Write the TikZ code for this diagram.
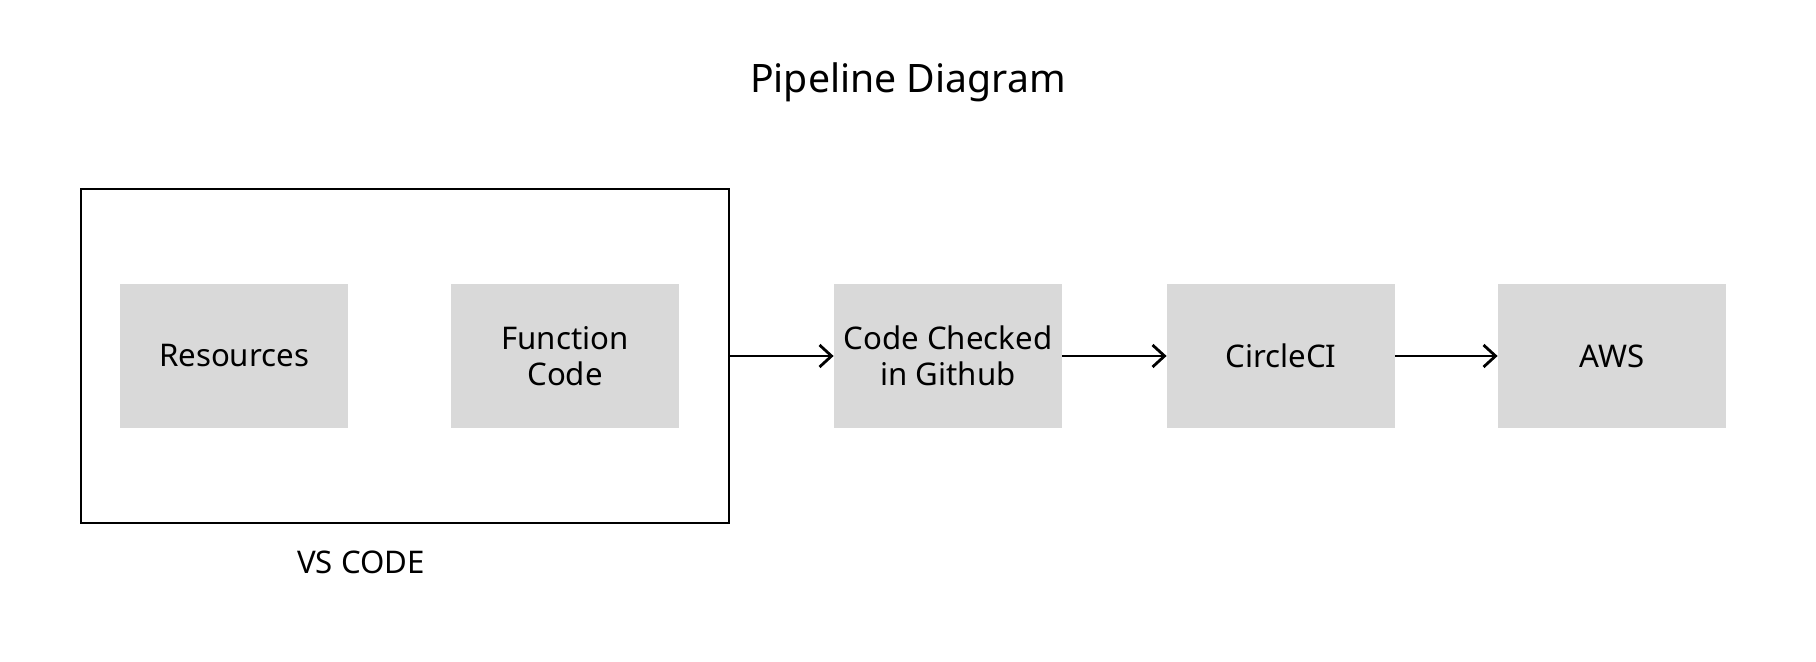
\documentclass[tikz,border=0pt]{standalone}
\usepackage{fontspec}
\setmainfont{Noto Sans}
\usetikzlibrary{arrows.meta}
\definecolor{boxgray}{HTML}{D9D9D9}
\tikzset{
  stepbox/.style={fill=boxgray, draw=none, minimum width=114pt, minimum height=72pt, inner sep=0pt, align=center, font=\fontsize{15.6}{17.8}\selectfont},
  flow/.style={line width=1.4pt, -{Straight Barb[length=6pt,width=11pt,line width=1.4pt]}},
}
\begin{document}
\begin{tikzpicture}[x=0.5pt,y=-0.5pt]
\useasboundingbox (0,0) rectangle (1816,662);
\node[font=\fontsize{19.6}{22}\selectfont, anchor=base] (title) at (908,92.7) {Pipeline Diagram};
\node[draw, line width=1.4pt, minimum width=324pt, minimum height=167pt, inner sep=0pt] (vs) at (405,356) {};
\node[font=\fontsize{15.6}{17.8}\selectfont, anchor=base] (vslabel) at (361,573.3) {VS CODE};
\node[stepbox] (res) at (234,356) {Resources};
\node[stepbox] (fun) at (565,356) {Function\\Code};
\node[stepbox] (git) at (948,356) {Code Checked\\in Github};
\node[stepbox] (ci) at (1281,356) {CircleCI};
\node[stepbox] (aws) at (1612,356) {AWS};
\draw[flow] (vs.east) -- (git.west);
\draw[flow] (git.east) -- (ci.west);
\draw[flow] (ci.east) -- (aws.west);
\end{tikzpicture}
\end{document}
